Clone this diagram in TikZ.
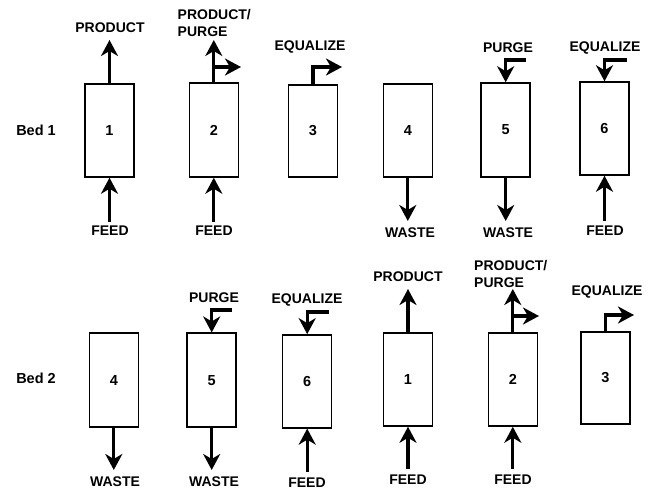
\documentclass[tikz,border=0pt]{standalone}
\usepackage{fontspec}
\setmainfont{Liberation Sans}
\usetikzlibrary{arrows.meta}
\begin{document}
\begin{tikzpicture}[x=1pt,y=-1pt]
\tikzset{
  bed/.style={draw, line width=1.5pt, minimum width=49pt, minimum height=93pt, inner sep=0pt,
    font=\fontsize{14.5}{16}\selectfont\bfseries},
  lbl/.style={inner sep=0pt, font=\fontsize{14}{17}\selectfont\bfseries},
  flow/.style={line width=3.2pt, -{Stealth[length=16pt,width=17pt,inset=5pt]}},
}
\useasboundingbox (0,0) rectangle (649,490);
% ---------------- Bed 1 ----------------
\node[lbl, font=\fontsize{14.5}{17}\selectfont\bfseries] (bedA) at (36,130) {Bed 1};
\node[bed] (t1) at (109.5,130.5) {1};
\node[bed, minimum height=94pt] (t2) at (213.8,130) {2};
\node[bed, minimum height=92pt] (t3) at (313,131) {3};
\node[bed] (t4) at (407.8,130.5) {4};
\node[bed, minimum height=94pt] (t5) at (505.7,130) {5};
\node[bed] (t6) at (604.5,128.5) {6};
% labels
\node[lbl] (t1prod) at (110,28) {PRODUCT};
\node[lbl, align=left, anchor=west] (t2pp) at (177.5,22.5) {PRODUCT/\\PURGE};
\node[lbl] (t3eq) at (310,47) {EQUALIZE};
\node[lbl] (t5pu) at (508,48) {PURGE};
\node[lbl] (t6eq) at (605,48) {EQUALIZE};
\node[lbl] (t1feed) at (110,231) {FEED};
\node[lbl] (t2feed) at (214,231) {FEED};
\node[lbl] (t4waste) at (410,233) {WASTE};
\node[lbl] (t5waste) at (508,233) {WASTE};
\node[lbl] (t6feed) at (605,231) {FEED};
% coordinates
\coordinate (t1up) at (109.5,40);
\coordinate (t1in) at (109.5,222);
\coordinate (t2up) at (213.8,40);
\coordinate (t2br) at (213.8,67);
\coordinate (t2brt) at (241,67);
\coordinate (t2in) at (213.8,222);
\coordinate (t3out) at (342,67);
\coordinate (t4out) at (407.8,221);
\coordinate (t5in) at (526,60);
\coordinate (t5out) at (505.7,221);
\coordinate (t6in) at (627,60);
\coordinate (t6feed0) at (604.5,221);
% arrows
\draw[flow] (t1.north) -- (t1up);
\draw[flow] (t1in) -- (t1.south);
\draw[flow] (t2.north) -- (t2up);
\draw[flow] (t2br) -- (t2brt);
\draw[flow] (t2in) -- (t2.south);
\draw[flow] (t3.north) |- (t3out);
\draw[flow] (t4.south) -- (t4out);
\draw[flow] (t5in) -| (t5.north);
\draw[flow] (t5.south) -- (t5out);
\draw[flow] (t6in) -| (t6.north);
\draw[flow] (t6feed0) -- (t6.south);
% ---------------- Bed 2 ----------------
\node[lbl, font=\fontsize{14.5}{17}\selectfont\bfseries] (bedB) at (36,378) {Bed 2};
\node[bed, minimum height=94pt] (b4) at (113.8,380.2) {4};
\node[bed, minimum height=94pt] (b5) at (211.7,380.2) {5};
\node[bed] (b6) at (307.2,381.4) {6};
\node[bed] (b1) at (408,379.5) {1};
\node[bed] (b2) at (512.8,379.5) {2};
\node[bed, minimum height=92pt] (b3) at (605.5,378) {3};
% labels
\node[lbl] (b5pu) at (214,298) {PURGE};
\node[lbl] (b6eq) at (307,300) {EQUALIZE};
\node[lbl] (b1prod) at (408,277) {PRODUCT};
\node[lbl, align=left, anchor=west] (b2pp) at (474,273.5) {PRODUCT/\\PURGE};
\node[lbl] (b3eq) at (607,292) {EQUALIZE};
\node[lbl] (b4waste) at (115,482) {WASTE};
\node[lbl] (b5waste) at (214,482) {WASTE};
\node[lbl] (b6feed) at (307,483) {FEED};
\node[lbl] (b1feed) at (408,480) {FEED};
\node[lbl] (b2feed) at (513,480) {FEED};
% coordinates
\coordinate (b4out) at (113.8,470);
\coordinate (b5in) at (232,310);
\coordinate (b5out) at (211.7,470);
\coordinate (b6in) at (328.5,312);
\coordinate (b6feed0) at (307.2,472);
\coordinate (b1up) at (408,289);
\coordinate (b1in) at (408,469);
\coordinate (b2up) at (512.8,289);
\coordinate (b2br) at (512.8,316);
\coordinate (b2brt) at (539,316);
\coordinate (b2in) at (512.8,469);
\coordinate (b3out) at (634,315);
% arrows
\draw[flow] (b4.south) -- (b4out);
\draw[flow] (b5in) -| (b5.north);
\draw[flow] (b5.south) -- (b5out);
\draw[flow] (b6in) -| (b6.north);
\draw[flow] (b6feed0) -- (b6.south);
\draw[flow] (b1.north) -- (b1up);
\draw[flow] (b1in) -- (b1.south);
\draw[flow] (b2.north) -- (b2up);
\draw[flow] (b2br) -- (b2brt);
\draw[flow] (b2in) -- (b2.south);
\draw[flow] (b3.north) |- (b3out);
\end{tikzpicture}
\end{document}
